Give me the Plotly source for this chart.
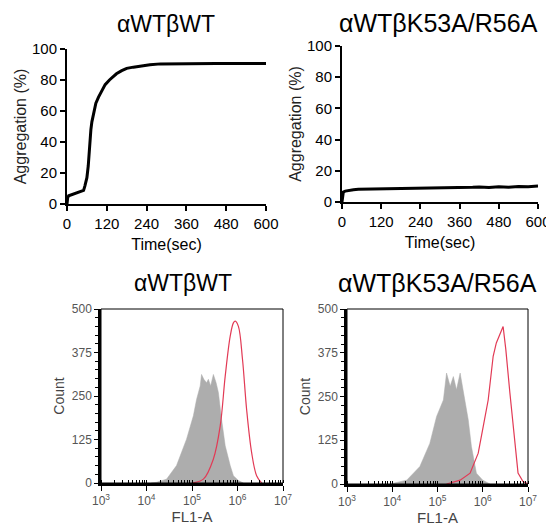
import plotly.graph_objects as go

# ---- Aggregation data ----
wt_time = [0, 2, 5, 20, 41, 50, 54, 60, 64, 68, 72, 75, 80, 87, 95, 103, 115, 128, 140, 149, 165, 180, 200, 220, 250, 282, 350, 450, 600]
wt_agg = [0, 4, 5.3, 6.5, 8.0, 8.8, 11.7, 17, 24.5, 38, 48, 53, 59, 65, 69, 72.5, 77, 80, 82.5, 84, 86, 87.5, 88.3, 89, 89.8, 90.4, 90.6, 90.7, 90.7]

mut_time = [0, 2, 4, 10, 20, 35, 50, 80, 120, 160, 200, 230, 260, 300, 340, 380, 400, 420, 450, 480, 510, 540, 570, 600]
mut_agg = [0, 5.5, 6.4, 7.0, 7.5, 7.9, 8.1, 8.2, 8.3, 8.4, 8.6, 8.4, 8.8, 8.7, 9.0, 8.9, 9.4, 9.6, 9.3, 9.8, 9.5, 10.0, 9.8, 10.2]

# ---- Flow cytometry histograms (log10 of FL1-A, count) ----
wt_gray_log = [4.10, 4.22, 4.44, 4.66, 4.88, 5.03, 5.10, 5.18, 5.21, 5.26, 5.32, 5.36, 5.41, 5.47, 5.53, 5.58, 5.65, 5.73, 5.84, 5.91, 6.02, 6.13]
wt_gray_cnt = [0, 2, 11, 50, 126, 193, 240, 279, 312, 298, 288, 298, 279, 312, 288, 260, 183, 107, 50, 21, 7, 0]
wt_red_log = [5.00, 5.25, 5.47, 5.62, 5.73, 5.84, 5.91, 5.95, 6.02, 6.11, 6.20, 6.31, 6.42, 6.53]
wt_red_cnt = [0, 11, 69, 164, 307, 422, 460, 465, 450, 355, 212, 88, 21, 0]

mut_gray_log = [3.95, 4.32, 4.61, 4.83, 4.98, 5.13, 5.20, 5.28, 5.35, 5.42, 5.50, 5.57, 5.68, 5.75, 5.86, 6.00, 6.16]
mut_gray_cnt = [0, 11, 50, 116, 193, 240, 317, 279, 307, 269, 317, 260, 183, 107, 31, 11, 0]
mut_red_log = [5.20, 5.50, 5.72, 5.90, 6.01, 6.12, 6.23, 6.30, 6.45, 6.51, 6.60, 6.71, 6.78, 6.89, 7.00]
mut_red_cnt = [0, 11, 31, 88, 164, 240, 365, 403, 450, 384, 260, 107, 31, 7, 0]

titles = ["αWTβWT", "αWTβK53A/R56A", "αWTβWT", "αWTβK53A/R56A"]
time_ticks = [0, 120, 240, 360, 480, 600]
agg_ticks = [0, 20, 40, 60, 80, 100]
count_ticks = [0, 125, 250, 375, 500]
fl_ticks = [1e3, 1e4, 1e5, 1e6, 1e7]
fl_ticktext = ["10<sup>3</sup>", "10<sup>4</sup>", "10<sup>5</sup>", "10<sup>6</sup>", "10<sup>7</sup>"]

# page body has an 8px margin, so the figure is drawn starting at (8, 8)
OFF = 8
W, H = 554 - OFF, 529 - OFF
def dx(a, b):
    return [(a - OFF) / W, (b - OFF) / W]
def dy(top, bot):
    return [1 - (bot - OFF) / H, 1 - (top - OFF) / H]

fig = go.Figure()
fig.add_trace(go.Scatter(x=wt_time, y=wt_agg, mode="lines", line=dict(color="black", width=3),
                         xaxis="x", yaxis="y", showlegend=False))
fig.add_trace(go.Scatter(x=mut_time, y=mut_agg, mode="lines", line=dict(color="black", width=3),
                         xaxis="x2", yaxis="y2", showlegend=False))

gray = "#adadad"
red = "#e23a55"
fig.add_trace(go.Scatter(x=[10 ** v for v in wt_gray_log], y=wt_gray_cnt, mode="lines", fill="tozeroy",
                         fillcolor=gray, line=dict(color=gray, width=0.5), xaxis="x3", yaxis="y3", showlegend=False))
fig.add_trace(go.Scatter(x=[10 ** v for v in wt_red_log], y=wt_red_cnt, mode="lines",
                         line=dict(color=red, width=1.2, shape="spline"), xaxis="x3", yaxis="y3", showlegend=False))
fig.add_trace(go.Scatter(x=[10 ** v for v in mut_gray_log], y=mut_gray_cnt, mode="lines", fill="tozeroy",
                         fillcolor=gray, line=dict(color=gray, width=0.5), xaxis="x4", yaxis="y4", showlegend=False))
fig.add_trace(go.Scatter(x=[10 ** v for v in mut_red_log], y=mut_red_cnt, mode="lines",
                         line=dict(color=red, width=1.2), xaxis="x4", yaxis="y4", showlegend=False))

font_main = "Arial, Liberation Sans, sans-serif"
top_x = dict(range=[0, 600], tickvals=time_ticks, showline=True, linecolor="black", linewidth=2,
             ticks="outside", ticklen=5, tickwidth=1.5, tickcolor="black", showgrid=False, zeroline=False,
             tickfont=dict(size=15, color="black"), automargin=False,
             title=dict(text="Time(sec)", font=dict(size=16, color="black"), standoff=8))
top_y = dict(range=[0, 100], tickvals=agg_ticks, showline=True, linecolor="black", linewidth=2,
             ticks="outside", ticklen=5, tickwidth=1.5, tickcolor="black", showgrid=False, zeroline=False,
             tickfont=dict(size=15, color="black"), automargin=False,
             title=dict(text="Aggregation (%)", font=dict(size=16, color="#222"), standoff=1))
bot_x = dict(type="log", range=[3, 7], tickvals=fl_ticks, ticktext=fl_ticktext, showline=True,
             linecolor="black", linewidth=2.5, ticks="outside", ticklen=5, tickcolor="black", showgrid=False,
             zeroline=False, tickfont=dict(size=12, color="#555"), automargin=False,
             minor=dict(dtick="D1", ticks="inside", ticklen=3, tickcolor="black", showgrid=False),
             title=dict(text="FL1-A", font=dict(size=15, color="#444"), standoff=3))
bot_y = dict(range=[0, 500], tickvals=count_ticks, showline=True, linecolor="black", linewidth=2.5,
             ticks="outside", ticklen=4, tickcolor="black", showgrid=False, zeroline=False,
             tickfont=dict(size=12, color="#555"), automargin=False,
             minor=dict(dtick=25, ticks="outside", ticklen=3, tickcolor="black", showgrid=False),
             title=dict(text="Count", font=dict(size=14, color="#444"), standoff=4))

fig.update_layout(
    width=W, height=H, margin=dict(l=0, r=0, t=0, b=0),
    paper_bgcolor="white", plot_bgcolor="white",
    font=dict(family=font_main, color="black"),
    xaxis=dict(domain=dx(67, 266), anchor="y", **top_x),
    yaxis=dict(domain=dy(49, 204), anchor="x", **top_y),
    xaxis2=dict(domain=dx(342, 538), anchor="y2", **top_x),
    yaxis2=dict(domain=dy(46, 202), anchor="x2", **top_y),
    xaxis3=dict(domain=dx(101, 283), anchor="y3", **bot_x),
    yaxis3=dict(domain=dy(309, 483), anchor="x3", **bot_y),
    xaxis4=dict(domain=dx(347, 528), anchor="y4", **bot_x),
    yaxis4=dict(domain=dy(309, 484), anchor="x4", **bot_y),
)

# thin frame around the histograms
for ax in ["x3", "x4"]:
    yax = "y" + ax[1:]
    fig.add_shape(type="rect", xref=ax + " domain", yref=yax + " domain", x0=0, x1=1, y0=0, y1=1,
                  line=dict(color="black", width=1), fillcolor="rgba(0,0,0,0)", layer="above")

title_pos = [(166, 24), (438, 23), (183, 283), (437, 283)]
title_sizes = [23, 25, 23, 25]
for t, (px, py), fs in zip(titles, title_pos, title_sizes):
    fig.add_annotation(text=t, x=(px - OFF) / W, y=1 - (py - OFF) / H, xref="paper", yref="paper",
                       showarrow=False, font=dict(size=fs, color="black", family=font_main),
                       xanchor="center", yanchor="middle")

fig.write_html("out.html")
